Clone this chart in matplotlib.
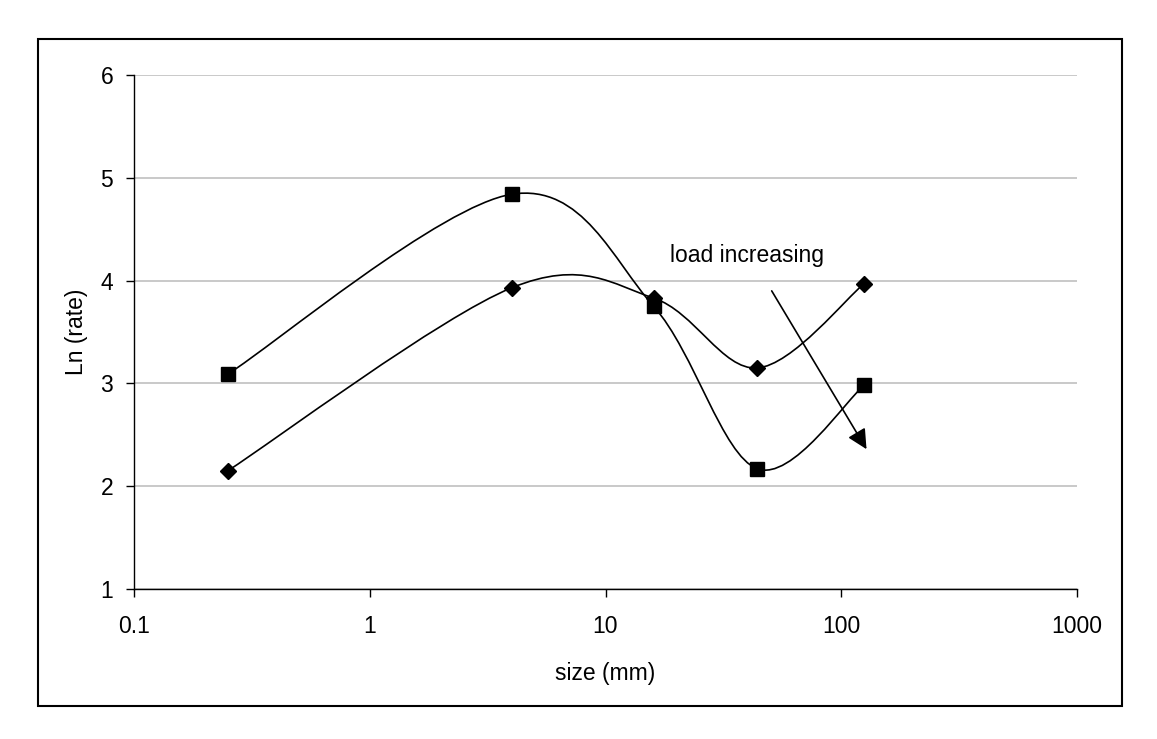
import numpy as np
import matplotlib.pyplot as plt
from matplotlib.path import Path
from matplotlib.patches import PathPatch, Rectangle

plt.rcParams['font.family'] = ['Liberation Sans', 'DejaVu Sans']

# data
size_mm = [0.25, 4, 16, 44, 125]
rate_diamond = [2.15, 3.93, 3.83, 3.15, 3.97]
rate_square = [3.09, 4.84, 3.75, 2.17, 2.98]

y_ticks = [1, 2, 3, 4, 5, 6]
x_ticks = [0.1, 1, 10, 100, 1000]
x_tick_labels = ['0.1', '1', '10', '100', '1000']

# pixel scale of one decade / one y unit, used so smoothing works in screen space
SX, SY = 235.75, 102.8


def smooth_path(xs, ys):
    # Excel-like smoothed line: cubic Bezier with Catmull-Rom tangents
    u = np.log10(xs) * SX
    v = np.array(ys) * SY
    pts = np.column_stack([u, v])
    n = len(pts)
    verts = [pts[0]]
    codes = [Path.MOVETO]
    for i in range(n - 1):
        p0 = pts[i - 1] if i > 0 else pts[i]
        p1 = pts[i]
        p2 = pts[i + 1]
        p3 = pts[i + 2] if i + 2 < n else pts[i + 1]
        c1 = p1 + (p2 - p0) / 6
        c2 = p2 - (p3 - p1) / 6
        verts += [c1, c2, p2]
        codes += [Path.CURVE4] * 3
    verts = np.array(verts)
    data = np.column_stack([10 ** (verts[:, 0] / SX), verts[:, 1] / SY])
    return Path(data, codes)


fig = plt.figure(figsize=(11.57, 7.39), dpi=100)
ax = fig.add_axes([134 / 1157, 1 - 589 / 739, (1077 - 134) / 1157, (589 - 75) / 739])

ax.set_xscale('log')
ax.set_xlim(0.1, 1000)
ax.set_ylim(1, 6)

for ys in (rate_diamond, rate_square):
    ax.add_patch(PathPatch(smooth_path(size_mm, ys), facecolor='none',
                           edgecolor='black', lw=1.2, zorder=3))

ax.plot(size_mm, rate_diamond, linestyle='none', marker='D', ms=8.2,
        color='black', zorder=4)
ax.plot(size_mm, rate_square, linestyle='none', marker='s', ms=9.5,
        color='black', zorder=4)

# annotation arrow
ax.annotate('', xy=(128, 2.36), xytext=(50.7, 3.9),
            arrowprops=dict(arrowstyle='-|>,head_length=0.6,head_width=0.3',
                            mutation_scale=20, color='black', lw=1.2,
                            shrinkA=0, shrinkB=0), zorder=5)
ax.text(18.8, 4.24, 'load increasing', fontsize=16.5, va='center', ha='left')

ax.set_yticks(y_ticks)
ax.set_xticks(x_ticks)
ax.set_xticklabels(x_tick_labels)
ax.minorticks_off()
ax.yaxis.grid(True, color='#c0c0c0', lw=1.2)
ax.set_axisbelow(True)
for s in ['top', 'right']:
    ax.spines[s].set_visible(False)
for s in ['left', 'bottom']:
    ax.spines[s].set_linewidth(1.0)
ax.tick_params(axis='both', direction='out', length=6, width=1, labelsize=16.5)
ax.tick_params(axis='y', pad=9)
ax.tick_params(axis='x', pad=13)

ax.set_xlabel('size (mm)', fontsize=16.5, labelpad=17)
ax.set_ylabel('Ln (rate)', fontsize=16.5, labelpad=9)

# outer border around the chart
fig.patches.append(Rectangle((37.7 / 1157, 1 - 706 / 739), (1121.7 - 37.7) / 1157,
                             (706 - 39.3) / 739, transform=fig.transFigure,
                             fill=False, edgecolor='black', lw=1.5))

plt.savefig('out.png', dpi=100)
